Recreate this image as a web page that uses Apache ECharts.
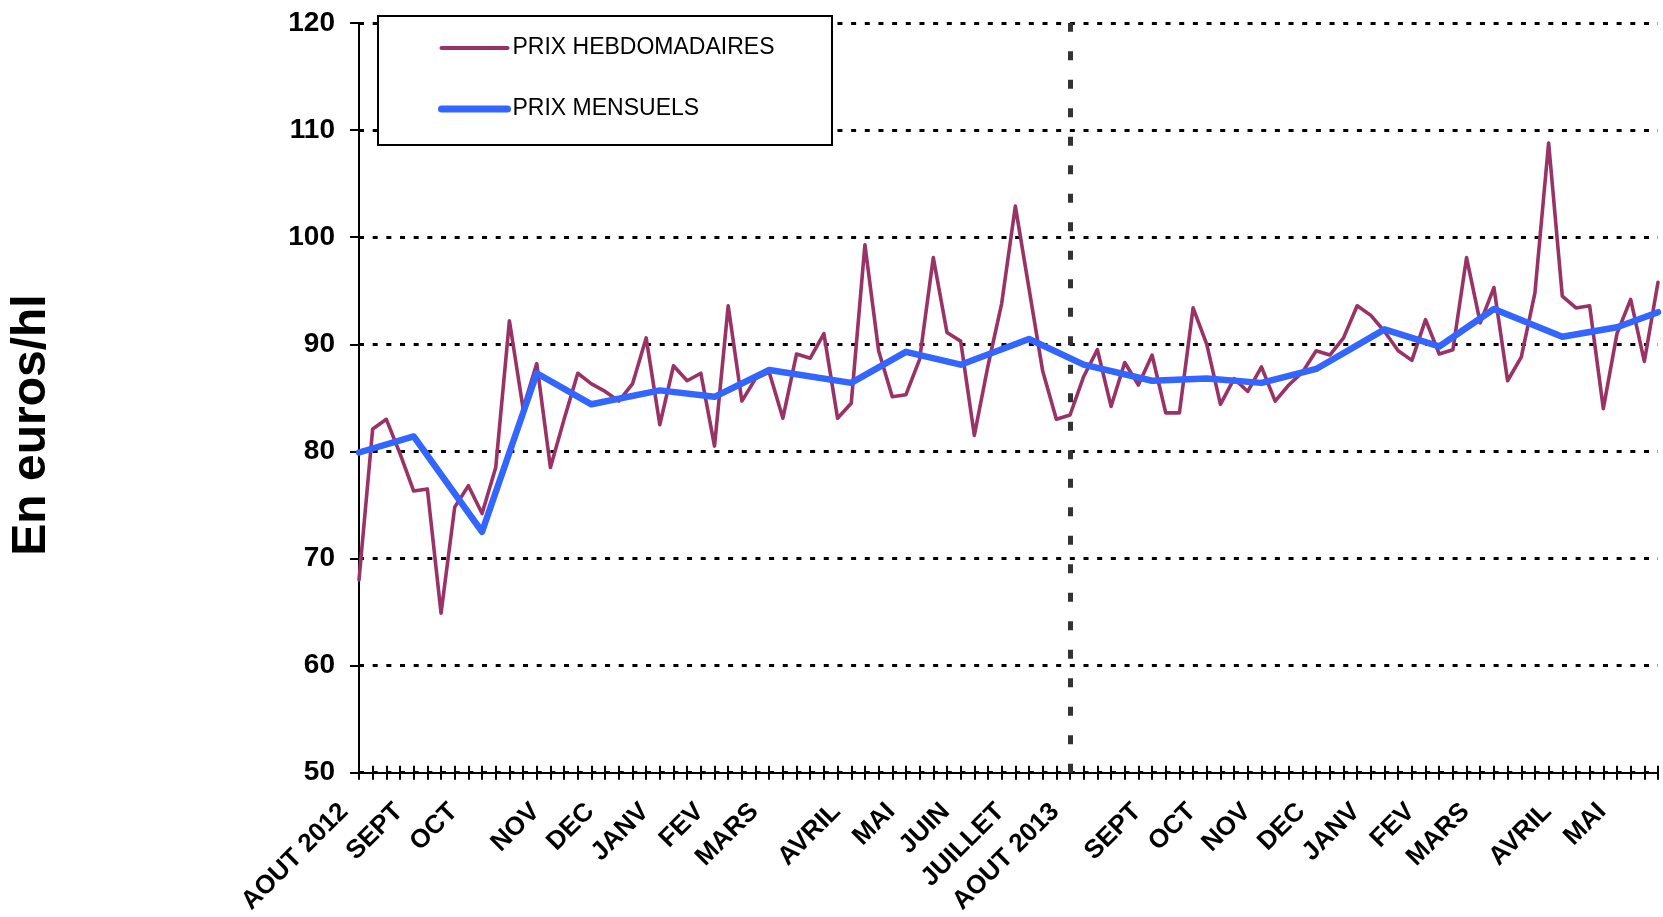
<!DOCTYPE html>
<html>
<head>
<meta charset="utf-8">
<script src="https://cdn.jsdelivr.net/npm/echarts@6/dist/echarts.min.js"></script>
<style>
html,body{margin:0;padding:0;background:#fff;}
#chart{width:1663px;height:917px;}
</style>
</head>
<body>
<div id="chart"></div>
<script>
// Weekly prices (96 weeks, Aug 2012 -> May 2014)
const weeklyValues = [
  68.0, 82.1, 83.0, 79.8, 76.3, 76.5, 64.9, 74.8, 76.8, 74.2,
  78.5, 92.2, 84.0, 88.2, 78.5, 83.0, 87.3, 86.3, 85.6, 84.7,
  86.3, 90.6, 82.5, 88.0, 86.6, 87.3, 80.5, 93.6, 84.7, 86.8,
  87.4, 83.1, 89.1, 88.7, 91.0, 83.1, 84.5, 99.3, 89.4, 85.1,
  85.3, 88.6, 98.1, 91.1, 90.3, 81.5, 88.0, 93.8, 102.9, 95.2,
  87.5, 83.0, 83.4, 87.0, 89.5, 84.2, 88.3, 86.2, 89.0, 83.6,
  83.6, 93.4, 90.0, 84.4, 86.8, 85.6, 87.9, 84.7, 86.2, 87.4,
  89.4, 89.0, 90.6, 93.6, 92.7, 91.2, 89.4, 88.5, 92.3, 89.1,
  89.5, 98.1, 92.0, 95.3, 86.6, 88.8, 94.8, 108.8, 94.5, 93.4,
  93.6, 84.0, 91.0, 94.2, 88.4, 95.8
];
// Monthly prices: week index where each monthly point sits, and its value
const monthlyWeek   = [0, 4, 9, 13, 17, 22, 26, 30, 36, 40, 44, 49, 53, 58, 62, 66, 70, 75, 79, 83, 88, 92, 95];
const monthlyValues = [79.9, 81.4, 72.5, 87.3, 84.4, 85.7, 85.1, 87.6, 86.4, 89.3, 88.1, 90.5, 88.1, 86.6, 86.8, 86.4, 87.7, 91.4, 89.8, 93.3, 90.7, 91.6, 93.0];
// Tick labels and the week they sit on
const monthLabels = ['AOUT 2012','SEPT','OCT','NOV','DEC','JANV','FEV','MARS','AVRIL','MAI','JUIN','JUILLET','AOUT 2013','SEPT','OCT','NOV','DEC','JANV','FEV','MARS','AVRIL','MAI'];
const labelWeek   = [0, 4, 8, 14, 18, 22, 26, 30, 36, 40, 44, 48, 52, 58, 62, 66, 70, 74, 78, 82, 88, 92];
const yTicks = [50, 60, 70, 80, 90, 100, 110, 120];
const seriesNames = ['PRIX HEBDOMADAIRES', 'PRIX MENSUELS'];
const separatorWeek = 52;

const categories = weeklyValues.map(() => '');
labelWeek.forEach((w, i) => { categories[w] = monthLabels[i]; });
const monthlySeries = weeklyValues.map(() => null);
monthlyWeek.forEach((w, i) => { monthlySeries[w] = monthlyValues[i]; });

const FONT = '"Liberation Sans", Arial, Helvetica, sans-serif';
const PURPLE = '#993366';
const BLUE = '#3366FF';
const chart = echarts.init(document.getElementById('chart'), null, {renderer: 'canvas'});

chart.setOption({
  backgroundColor: '#ffffff',
  animation: false,
  grid: {left: 359, right: 5, top: 23, bottom: 140, containLabel: false},
  graphic: [
    {
      type: 'rect', z: 3,
      shape: {x: 378, y: 16, width: 454, height: 129},
      style: {fill: '#ffffff', stroke: '#000000', lineWidth: 2}
    },
    {
      type: 'text', z: 3, x: 32, y: 425, rotation: Math.PI / 2,
      style: {text: 'En euros/hl', fontFamily: FONT, fontSize: 48, fontWeight: 'bold', fill: '#000', align: 'center', verticalAlign: 'middle'}
    }
  ],
  legend: {
    show: true, z: 5,
    orient: 'vertical', left: 438, top: 36, padding: 0,
    itemWidth: 66, itemHeight: 24, itemGap: 37,
    itemStyle: {opacity: 0},
    textStyle: {fontFamily: FONT, fontSize: 23, color: '#000', lineHeight: 24},
    data: [
      {name: seriesNames[0], itemStyle: {opacity: 0}, lineStyle: {width: 4, color: PURPLE, opacity: 1}},
      {name: seriesNames[1], itemStyle: {opacity: 0}, lineStyle: {width: 7, color: BLUE, opacity: 1}}
    ]
  },
  xAxis: [
    {
      type: 'category', position: 'bottom', boundaryGap: false, data: categories,
      axisLine: {show: true, lineStyle: {color: '#000', width: 2}},
      axisTick: {show: true, interval: 0, length: 7, lineStyle: {color: '#000', width: 2}},
      axisLabel: {
        show: true, interval: 0, rotate: 45, margin: 20, padding: [0, 21, 0, 0],
        fontFamily: FONT, fontSize: 26, fontWeight: 'bold', color: '#000'
      },
      splitLine: {show: false}
    },
    {
      type: 'category', position: 'bottom', boundaryGap: false, data: categories,
      axisLine: {show: false},
      axisTick: {show: true, inside: true, interval: 0, length: 7, lineStyle: {color: '#000', width: 2}},
      axisLabel: {show: false},
      splitLine: {show: false}
    }
  ],
  yAxis: {
    type: 'value', min: yTicks[0], max: yTicks[yTicks.length - 1], interval: 10,
    axisLine: {show: true, lineStyle: {color: '#000', width: 2}},
    axisTick: {show: true, length: 9, lineStyle: {color: '#000', width: 2}},
    axisLabel: {margin: 24, fontFamily: FONT, fontSize: 28, fontWeight: 'bold', color: '#000'},
    splitLine: {show: true, lineStyle: {color: '#000', width: 3, type: [5, 8.67]}}
  },
  series: [
    {
      name: seriesNames[0], type: 'line', xAxisIndex: 0, data: weeklyValues,
      symbol: 'none', z: 2,
      itemStyle: {color: PURPLE},
      lineStyle: {color: PURPLE, width: 3.6, join: 'round', cap: 'round'},
      markLine: {
        silent: true, symbol: ['none', 'none'], label: {show: false},
        lineStyle: {color: '#333333', width: 5, type: [9, 19.5]},
        data: [{xAxis: separatorWeek}]
      }
    },
    {
      name: seriesNames[1], type: 'line', xAxisIndex: 0, data: monthlySeries,
      connectNulls: true, symbol: 'none', z: 2,
      itemStyle: {color: BLUE},
      lineStyle: {color: BLUE, width: 6.5, join: 'round', cap: 'round'}
    }
  ]
});
</script>
</body>
</html>
